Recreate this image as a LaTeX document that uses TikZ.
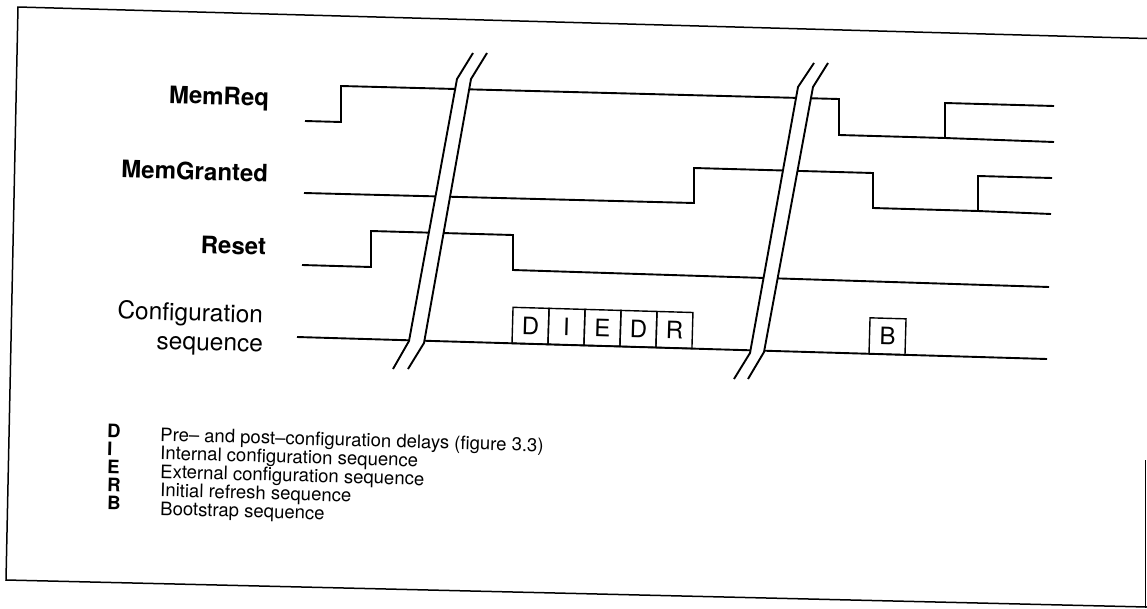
\documentclass[tikz,border=0pt]{standalone}
\usepackage{fontspec}
\setmainfont{TeX Gyre Heros}
\begin{document}
\begin{tikzpicture}[x=1pt,y=-1pt,
  sig/.style={line width=1.9pt, line join=miter},
  frame/.style={line width=1.5pt},
  brk/.style={line width=1.9pt},
  lbl/.style={font=\fontsize{24}{29}\selectfont\bfseries, anchor=base east, inner sep=0pt, rotate=-1.6},
  lblr/.style={font=\fontsize{24.5}{29}\selectfont, anchor=base east, inner sep=0pt, rotate=-1.6},
  box/.style={draw, line width=1.4pt, minimum width=36pt, minimum height=36pt, inner sep=0pt, outer sep=0pt,
              rotate=-1.65, anchor=south west, font=\fontsize{24}{24}\selectfont},
  leglet/.style={font=\fontsize{18.5}{18.5}\selectfont\bfseries, anchor=base west, inner sep=0pt, rotate=-1.6},
  legtxt/.style={font=\fontsize{18.5}{18.5}\selectfont, anchor=base west, inner sep=0pt, rotate=-1.6}
]
\useasboundingbox (0,0) rectangle (1147,608);

% frame
\draw[frame] (1147,38.5) -- (18,7) -- (6,580) -- (1147,607);
\draw[frame] (1145.5,460) -- (1145.5,608);

% signal labels
\node[lbl] (memreq) at (269,106) {MemReq};
\node[lbl] (memgr) at (268,182) {MemGranted};
\node[lbl] (reset) at (266,255) {Reset};
\node[lblr] (cfg1) at (263,323) {Configuration};
\node[lblr] (cfg2) at (263,352) {sequence};

% signals
\draw[sig] (305,121) -- (341,122) -- (341,86) -- (839,99) -- (839,135) -- (945,138) -- (945,103) -- (1054,106);
\draw[sig] (945,138) -- (1054,142);
\draw[sig] (304,193) -- (694,203) -- (694,168) -- (873,173) -- (873,208) -- (978,211) -- (978,176) -- (1052,178);
\draw[sig] (978,211) -- (1051,214);
\draw[sig] (302,265) -- (371,267) -- (371,231) -- (513,235) -- (513,270) -- (1049,287);
\draw[sig] (297,337) -- (1047,359);

% configuration boxes
\node[box] (bd1) at (512,343.3) {D};
\node[box] (bi) at (bd1.south east) {I};
\node[box] (be) at (bi.south east) {E};
\node[box] (bd2) at (be.south east) {D};
\node[box] (br) at (bd2.south east) {R};
\node[box] (bb) at (869,353.8) {B};

% time breaks
\fill[white] (473,53) -- (457,79) -- (409,341) -- (393,369) -- (408,369) -- (424,343) -- (471,79) -- (487,53) -- cycle;
\draw[brk] (473,53) -- (457,79) -- (409,341) -- (393,369);
\draw[brk] (487,53) -- (471,79) -- (424,343) -- (408,369);
\fill[white] (814,63) -- (798,87) -- (750,353) -- (734,379) -- (748,379) -- (764,352) -- (813,87) -- (828,63) -- cycle;
\draw[brk] (814,63) -- (798,87) -- (750,353) -- (734,379);
\draw[brk] (828,63) -- (813,87) -- (764,352) -- (748,379);

% legend
\node[leglet] (lD) at (107,437) {D};
\node[leglet] (lI) at (107,455) {I};
\node[leglet] (lE) at (107,473) {E};
\node[leglet] (lR) at (107,491) {R};
\node[leglet] (lB) at (107,509) {B};
\node[legtxt] (tD) at (160,441) {Pre– and post–configuration delays (figure 3.3)};
\node[legtxt] (tI) at (160,459.5) {Internal configuration sequence};
\node[legtxt] (tE) at (160,478) {External configuration sequence};
\node[legtxt] (tR) at (160,496.5) {Initial refresh sequence};
\node[legtxt] (tB) at (160,515) {Bootstrap sequence};
\end{tikzpicture}
\end{document}
